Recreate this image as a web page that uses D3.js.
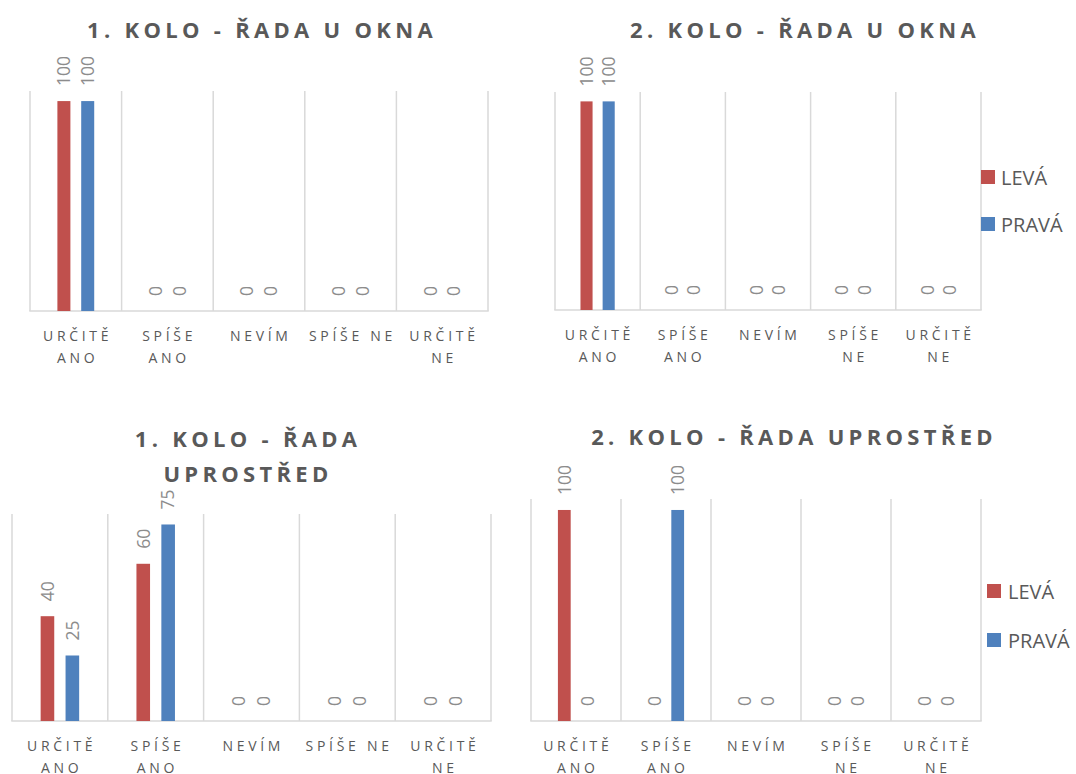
<!DOCTYPE html>
<html>
<head>
<meta charset="utf-8">
<script src="https://cdn.jsdelivr.net/npm/d3@7"></script>
<style>
  html, body { margin: 0; padding: 0; background: #fff; }
  svg { display: block; }
</style>
</head>
<body>
<svg id="chart" width="1076" height="774"></svg>
<script>
// ---------- DATA ----------
const categories = ["URČITĚ ANO", "SPÍŠE ANO", "NEVÍM", "SPÍŠE NE", "URČITĚ NE"];
const seriesNames = ["LEVÁ", "PRAVÁ"];

const levaKolo1Okno = [100, 0, 0, 0, 0];
const pravaKolo1Okno = [100, 0, 0, 0, 0];
const levaKolo2Okno = [100, 0, 0, 0, 0];
const pravaKolo2Okno = [100, 0, 0, 0, 0];
const levaKolo1Stred = [40, 60, 0, 0, 0];
const pravaKolo1Stred = [25, 75, 0, 0, 0];
const levaKolo2Stred = [100, 0, 0, 0, 0];
const pravaKolo2Stred = [0, 100, 0, 0, 0];

const chartTitles = [
  ["1. KOLO - ŘADA U OKNA"],
  ["2. KOLO - ŘADA U OKNA"],
  ["1. KOLO - ŘADA", "UPROSTŘED"],
  ["2. KOLO - ŘADA UPROSTŘED"]
];

// tick labels as wrapped lines
const tickLabelsWide = [["URČITĚ", "ANO"], ["SPÍŠE", "ANO"], ["NEVÍM"], ["SPÍŠE NE"], ["URČITĚ", "NE"]];
const tickLabelsNarrow = [["URČITĚ", "ANO"], ["SPÍŠE", "ANO"], ["NEVÍM"], ["SPÍŠE", "NE"], ["URČITĚ", "NE"]];

const axisMax = [104.8, 104.5, 79, 105.2];

// ---------- STYLE ----------
const colors = { "LEVÁ": "#c0504d", "PRAVÁ": "#4f81bd" };
const gridColor = "#d9d9d9";
const textDark = "#595959";
const textLight = "#8c8c8c";
const fontFamily = "'Open Sans', 'DejaVu Sans', sans-serif";

const svg = d3.select("#chart");

const charts = [
  { title: chartTitles[0], leva: levaKolo1Okno, prava: pravaKolo1Okno, ticks: tickLabelsWide, max: axisMax[0],
    plot: { l: 30, r: 488, t: 91, b: 311 }, titleX: 260, titleY: [38], legend: null },
  { title: chartTitles[1], leva: levaKolo2Okno, prava: pravaKolo2Okno, ticks: tickLabelsNarrow, max: axisMax[1],
    plot: { l: 555, r: 981, t: 92, b: 310 }, titleX: 803, titleY: [38], legend: { x: 981, y: [170, 217], tx: 1001 } },
  { title: chartTitles[2], leva: levaKolo1Stred, prava: pravaKolo1Stred, ticks: tickLabelsWide, max: axisMax[2],
    plot: { l: 12, r: 491, t: 514, b: 721 }, titleX: 246, titleY: [447, 481.5], legend: null },
  { title: chartTitles[3], leva: levaKolo2Stred, prava: pravaKolo2Stred, ticks: tickLabelsNarrow, max: axisMax[3],
    plot: { l: 531, r: 981, t: 499, b: 721 }, titleX: 792, titleY: [445], legend: { x: 987, y: [584, 633], tx: 1008 } }
];

charts.forEach(ch => {
  const g = svg.append("g");
  const p = ch.plot;

  const x0 = d3.scaleBand().domain(categories).range([p.l, p.r]).paddingInner(0).paddingOuter(0);
  const x1 = d3.scaleBand().domain(seriesNames).range([0, x0.bandwidth()])
    .paddingInner(0.454).paddingOuter(1.15);
  const y = d3.scaleLinear().domain([0, ch.max]).range([p.b, p.t]);

  // vertical category gridlines
  const bounds = categories.map(c => x0(c)).concat([p.r]);
  g.selectAll("line.grid").data(bounds).join("line")
    .attr("x1", d => d).attr("x2", d => d)
    .attr("y1", p.t).attr("y2", p.b)
    .attr("stroke", gridColor).attr("stroke-width", 1.5);

  // bottom axis line
  g.append("line").attr("x1", p.l - 0.75).attr("x2", p.r + 0.75)
    .attr("y1", p.b).attr("y2", p.b)
    .attr("stroke", gridColor).attr("stroke-width", 1.5);

  // data rows
  const rows = categories.map((c, i) => ({ cat: c, i, vals: [
    { s: "LEVÁ", v: ch.leva[i] }, { s: "PRAVÁ", v: ch.prava[i] }] }));

  const cg = g.selectAll("g.cat").data(rows).join("g")
    .attr("transform", d => `translate(${x0(d.cat)},0)`);

  cg.selectAll("rect").data(d => d.vals.filter(v => v.v > 0)).join("rect")
    .attr("x", d => x1(d.s))
    .attr("width", x1.bandwidth())
    .attr("y", d => y(d.v))
    .attr("height", d => y(0) - y(d.v))
    .attr("fill", d => colors[d.s]);

  cg.selectAll("text.val").data(d => d.vals).join("text")
    .attr("class", "val")
    .attr("transform", d => `translate(${x1(d.s) + x1.bandwidth() / 2},${y(d.v) - 15}) rotate(-90)`)
    .attr("dy", "0.36em")
    .attr("text-anchor", "start")
    .attr("font-family", fontFamily)
    .attr("font-size", 17.5)
    .attr("fill", textLight)
    .text(d => d.v);

  // category axis using d3 axis
  const axis = d3.axisBottom(x0).tickSize(0).tickPadding(0);
  const ax = g.append("g").attr("transform", `translate(0,${p.b})`).call(axis);
  ax.select(".domain").remove();
  ax.selectAll(".tick text").each(function(d, i) {
    const t = d3.select(this);
    t.text(null)
      .attr("y", 0).attr("dy", null)
      .attr("font-family", fontFamily)
      .attr("font-size", 14)
      .attr("letter-spacing", "3.7px")
      .attr("fill", textDark);
    ch.ticks[i].forEach((line, k) => {
      t.append("tspan").attr("x", 1.8).attr("y", 30 + k * 22).text(line);
    });
  });

  // title
  const tt = g.append("text")
    .attr("text-anchor", "middle")
    .attr("font-family", fontFamily)
    .attr("font-weight", 700)
    .attr("font-size", 22)
    .attr("letter-spacing", "4.3px")
    .attr("fill", textDark);
  ch.title.forEach((line, k) => {
    tt.append("tspan").attr("x", ch.titleX + 2).attr("y", ch.titleY[k]).text(line);
  });

  // legend
  if (ch.legend) {
    const lg = g.selectAll("g.leg").data(seriesNames).join("g")
      .attr("transform", (d, i) => `translate(${ch.legend.x},${ch.legend.y[i]})`);
    lg.append("rect").attr("width", 14).attr("height", 14).attr("fill", d => colors[d]);
    lg.append("text").attr("x", ch.legend.tx - ch.legend.x).attr("y", 14.5)
      .attr("font-family", fontFamily).attr("font-size", 20).attr("fill", textDark)
      .text(d => d);
  }
});
</script>
</body>
</html>
